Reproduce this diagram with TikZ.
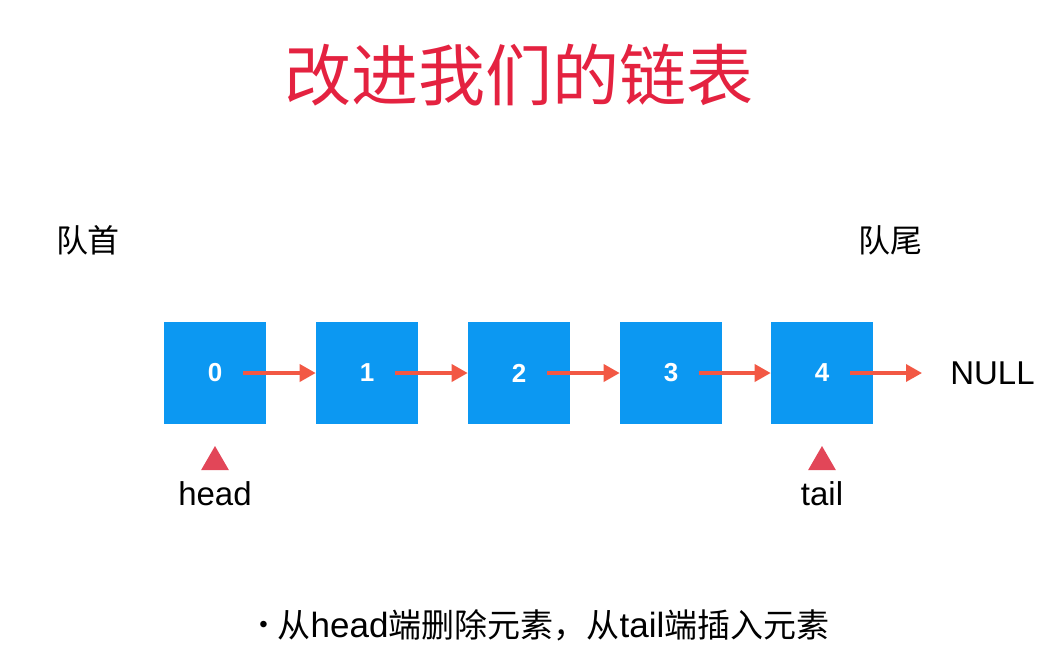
\documentclass[tikz,border=0pt]{standalone}
\usepackage{fontspec}
\setmainfont{Liberation Sans}
\newfontfamily\cjk{Noto Sans CJK SC}
\usetikzlibrary{arrows.meta,shapes.geometric}
\definecolor{boxblue}{RGB}{12,152,242}
\definecolor{linkred}{RGB}{242,88,68}
\definecolor{markred}{RGB}{226,70,88}
\definecolor{titlered}{RGB}{228,34,64}
\begin{document}
\begin{tikzpicture}[x=1pt, y=-1pt, semithick]
	\tikzset{
	    lnode/.style= {rectangle, fill=boxblue, text=white, minimum size=102pt, inner sep=0pt,
	        font=\fontsize{26}{28}\selectfont\bfseries},
	    plink/.style= {draw=linkred, line width=3.5pt, -{Triangle[length=16pt, width=17pt]}},
	    pmark/.style= {regular polygon, regular polygon sides=3, fill=markred, minimum size=32pt, inner sep=0pt},
	    ptext/.style= {font=\fontsize{33}{36}\selectfont, inner sep=0pt},
	    ctext/.style= {font=\cjk\fontsize{32}{36}\selectfont, inner sep=0pt},
	}
	\useasboundingbox (0,0) rectangle (1061,657);

	\node[font=\cjk\fontsize{67}{72}\selectfont, text=titlered] (title) at (519, 75) {改进我们的链表};

	\node[ctext] (front) at (88, 240) {队首};
	\node[ctext] (rear) at (890, 240) {队尾};

	\node[lnode] (b0) at (215, 373) {0};
	\node[lnode] (b1) at (367, 373) {1};
	\node[lnode] (b2) at (519, 373) {2};
	\node[lnode] (b3) at (671, 373) {3};
	\node[lnode] (b4) at (822, 373) {4};
	\node[ptext, anchor=west] (null) at (950, 373) {NULL};

	\draw[plink] ([xshift=28pt]b0.center) -- (b1.west);
	\draw[plink] ([xshift=28pt]b1.center) -- (b2.west);
	\draw[plink] ([xshift=28pt]b2.center) -- (b3.west);
	\draw[plink] ([xshift=28pt]b3.center) -- (b4.west);
	\draw[plink] ([xshift=28pt]b4.center) -- ([xshift=-28pt]null.west);

	\node[pmark] (hmark) at (215, 462) {};
	\node[pmark] (tmark) at (822, 462) {};
	\node[ptext] (head) at (215, 494) {head};
	\node[ptext] (tail) at (822, 494) {tail};

	\node[font=\fontsize{35}{38}\selectfont, anchor=west, inner sep=0pt] (note) at (259, 625)
	    {\raisebox{5pt}{\fontsize{24}{28}\selectfont •}\hspace{10pt}{\cjk\fontsize{33}{38}\selectfont 从}head{\cjk\fontsize{33}{38}\selectfont 端删除元素，从}tail{\cjk\fontsize{33}{38}\selectfont 端插入元素}};
\end{tikzpicture}
\end{document}
